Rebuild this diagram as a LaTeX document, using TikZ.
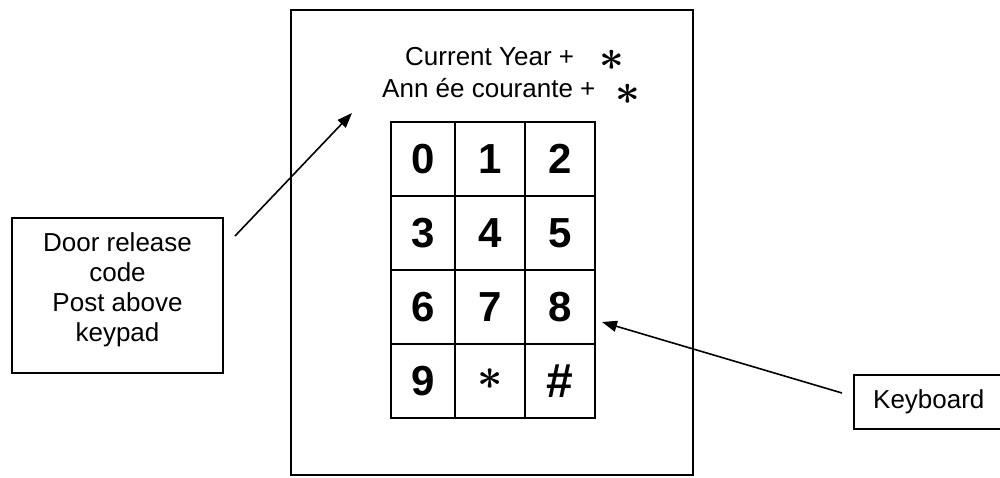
\documentclass[tikz,border=0pt]{standalone}
\usepackage{graphicx}
\usepackage{fontspec}
\setmainfont{Liberation Sans}
\usetikzlibrary{arrows.meta}
\begin{document}
\begin{tikzpicture}[x=1pt,y=-1pt,
  frame/.style={draw=black,line width=1.6pt},
  lbl/.style={font=\fontsize{26}{30}\selectfont,inner sep=0pt,align=center},
  keycell/.style={draw=black,line width=1.6pt,minimum width=#1,minimum height=74pt,inner sep=0pt,font=\fontsize{42}{42}\selectfont\bfseries},
  star/.style={inner sep=0pt,font=\fontsize{10}{10}\selectfont},
  pointer/.style={line width=1.6pt,-{Triangle[length=15pt,width=11pt]}}]
\useasboundingbox (0,0) rectangle (1000,477);
\fill[white] (0,0) rectangle (1000,477);
% outer panel
\node[frame,minimum width=402pt,minimum height=465pt,inner sep=0pt] (panel) at (492,242.5) {};
% texts above keypad
\node[lbl,anchor=base west] (t1) at (405,65) {Current Year +};
\node[star] (s1) at (612,60) {\scalebox{4.3}{\boldmath$\ast$}};
\node[lbl,anchor=base west] (t2) at (382,97) {Ann ée courante +};
\node[star] (s2) at (627.5,94.5) {\scalebox{4.3}{\boldmath$\ast$}};
% keypad
\node[keycell=64pt] (k0) at (423,159) {0};
\node[keycell=70pt] (k1) at (490,159) {1};
\node[keycell=70pt] (k2) at (560,159) {2};
\node[keycell=64pt] (k3) at (423,233) {3};
\node[keycell=70pt] (k4) at (490,233) {4};
\node[keycell=70pt] (k5) at (560,233) {5};
\node[keycell=64pt] (k6) at (423,307) {6};
\node[keycell=70pt] (k7) at (490,307) {7};
\node[keycell=70pt] (k8) at (560,307) {8};
\node[keycell=64pt] (k9) at (423,381) {9};
\node[keycell=70pt,font=\fontsize{10}{10}\selectfont] (kstar) at (490,381) {\raisebox{4pt}{\scalebox{4.4}{\boldmath$\ast$}}};
\node[keycell=70pt,font=\fontsize{48}{48}\selectfont\bfseries] (khash) at (560,381) {\#};
% callout boxes
\node[frame,minimum width=211pt,minimum height=155pt,inner sep=0pt] (door) at (117.5,295.5) {};
\node[lbl] (doortxt) at (117.5,289.5) {Door release\\code\\Post above\\keypad};
\node[frame,lbl,anchor=north west,minimum width=160pt,minimum height=54pt,text width=160pt,inner sep=0pt] (kbd) at (853,374) {\hspace*{-10pt}Keyboard};
% pointers
\coordinate (p1s) at (235,236);
\coordinate (p1e) at (352,113);
\coordinate (p2s) at (842,393);
\coordinate (p2e) at (602,322);
\draw[pointer] (p1s) -- (p1e);
\draw[pointer] (p2s) -- (p2e);
\end{tikzpicture}
\end{document}
